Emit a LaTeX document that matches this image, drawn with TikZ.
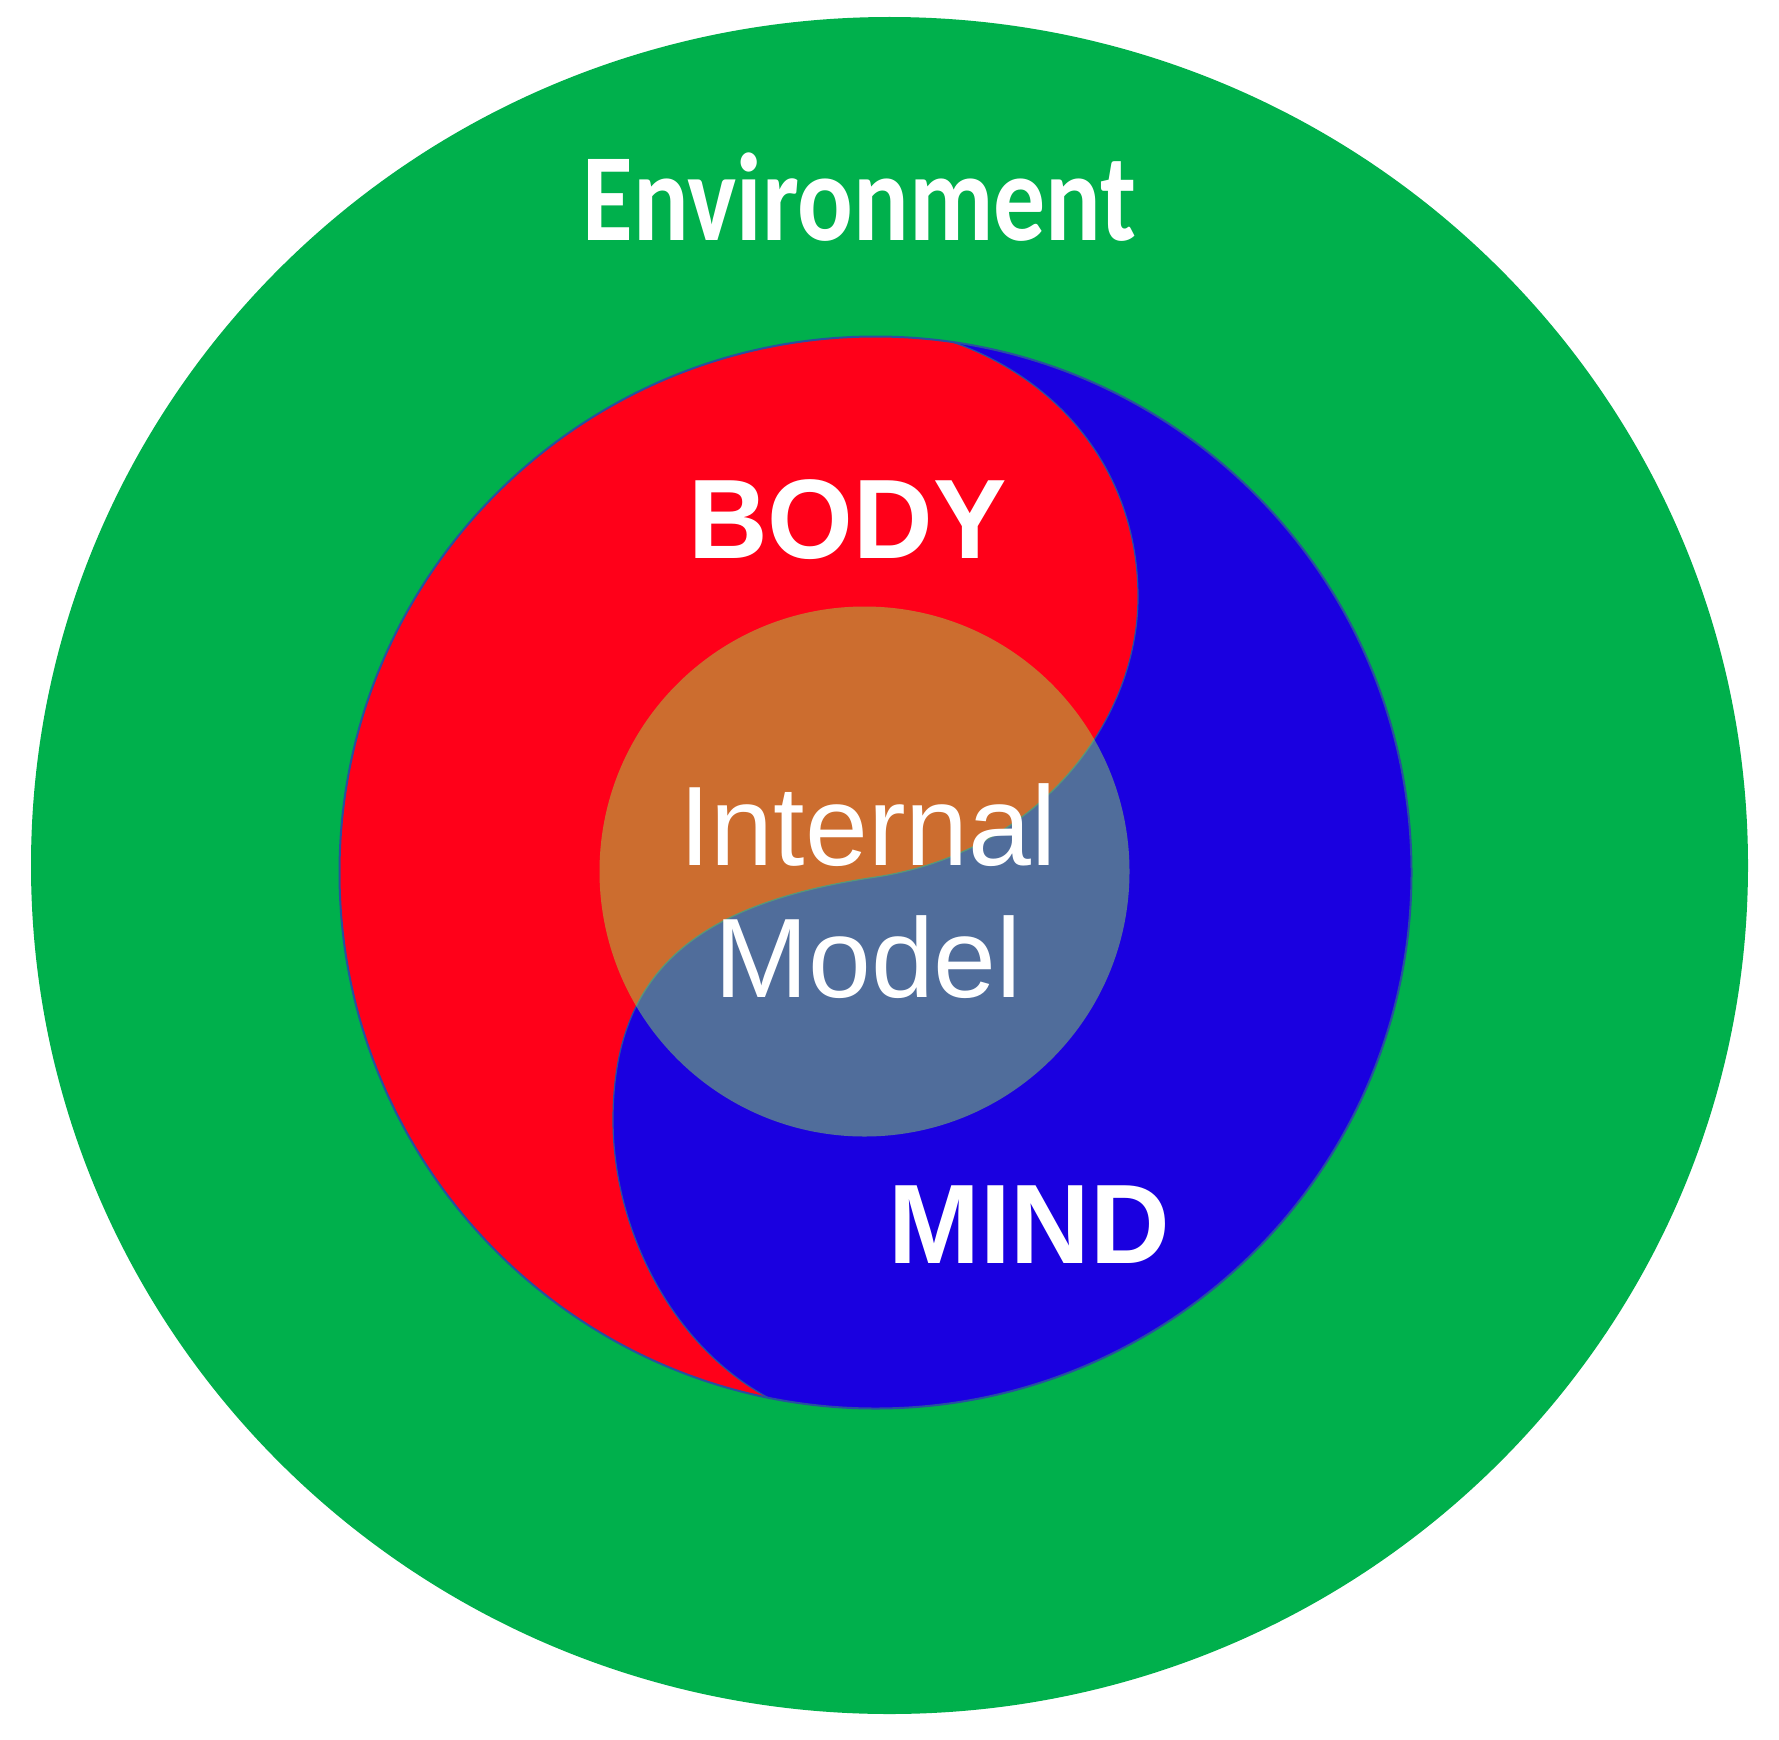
\documentclass[tikz,border=0pt]{standalone}
\usepackage{fontspec}
\setmainfont{Liberation Sans}
\newfontfamily\envfont{Carlito}
\definecolor{envgreen}{RGB}{0,176,76}
\definecolor{bodyred}{RGB}{255,0,25}
\definecolor{mindblue}{RGB}{26,0,224}
\definecolor{modelglow}{RGB}{144,239,75}
\definecolor{seam}{RGB}{40,80,160}
\tikzset{
  bigword/.style={text=white, inner sep=0pt, anchor=base, xscale=0.975,
    font=\fontsize{113}{132}\selectfont\bfseries},
  thinword/.style={text=white, inner sep=0pt, anchor=base,
    align=center, font=\fontsize{113}{132}\selectfont},
}
\begin{document}
\begin{tikzpicture}[x=1pt,y=-1pt]
          \useasboundingbox (0,0) rectangle (1779,1739);
          \fill[white] (0,0) rectangle (1779,1739);
          % centres
          \coordinate (o) at (889.5,865.5);
          \coordinate (c) at (875.5,872.5);
          \coordinate (m) at (864.5,871.5);
          % environment
          \fill[envgreen] (o) ellipse (858.5 and 848.5);
          % mind
          \fill[mindblue] (c) circle (536);
          % body
          \begin{scope}
            \clip (c) circle (536);
            \filldraw[fill=bodyred, draw=seam, line width=1.2]
              (930,335) .. controls (1054,369) and (1138,468) .. (1138,597)
              .. controls (1138,720) and (1040,852) .. (876,877)
              .. controls (698,903) and (613,970) .. (613,1120)
              .. controls (613,1238) and (681,1363) .. (790,1408)
              -- (790,1450) -- (300,1450) -- (300,300) -- (930,300) -- cycle;
          \end{scope}
          \draw[seam, line width=2] (c) circle (536);
          % internal model
          \fill[modelglow, opacity=0.46] (m) circle (265);
          % labels
          \node[text=white, inner sep=0pt, anchor=base, xscale=0.83,
            font=\envfont\fontsize{125}{130}\selectfont\bfseries]
            (env) at (859.5,240.7) {Environment};
          \node[bigword] (body) at (847.5,558.3) {BODY};
          \node[bigword] (mind) at (1029,1263.3) {MIND};
          \node[thinword] (model) at (868,997) {Internal\\Model};
        \end{tikzpicture}
\end{document}
